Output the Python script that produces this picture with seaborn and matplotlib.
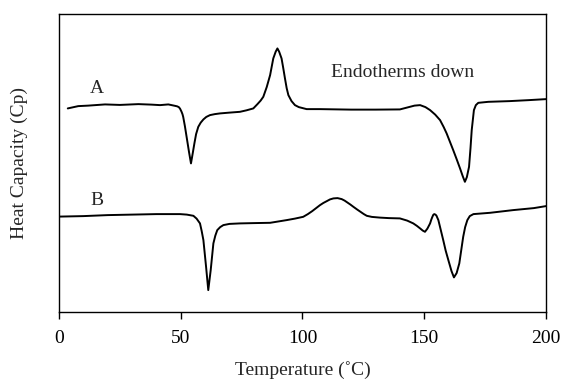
import pandas as pd
import matplotlib
matplotlib.use("Agg")
import matplotlib.pyplot as plt
import seaborn as sns

# DSC traces (arbitrary heat capacity units)
temp_a = [3.6, 7.9, 12.0, 18.9, 25.0, 32.6, 38.0, 41.5, 44.9, 47.6,
          48.5, 49.2, 49.7, 50.3, 50.7, 51.0, 51.7, 52.4, 53.4, 54.2,
          55.0, 55.6, 56.3, 57.2, 58.2, 59.3, 60.5, 62.0, 64.0, 66.1,
          70.0, 74.3, 77.0, 79.8, 81.5, 82.8, 83.9, 85.3, 86.7, 87.4,
          88.0, 89.0, 89.7, 90.4, 91.4, 92.1, 92.8, 93.5, 94.2, 95.5,
          96.9, 98.5, 101.7, 104.0, 107.2, 120.0, 130.0, 140.0, 144.1, 146.0,
          148.3, 150.5, 152.4, 154.5, 156.5, 158.0, 159.2, 161.9, 163.3, 164.7,
          165.8, 166.7, 167.5, 168.4, 169.0, 169.5, 170.4, 171.2, 172.2, 176.3,
          185.0, 193.0, 200.0]
cp_a = [2.037, 2.060, 2.065, 2.077, 2.072, 2.080, 2.075, 2.070, 2.077, 2.063,
        2.058, 2.050, 2.035, 2.005, 1.980, 1.953, 1.860, 1.753, 1.600, 1.487,
        1.600, 1.687, 1.780, 1.853, 1.895, 1.927, 1.952, 1.970, 1.980, 1.987,
        1.995, 2.003, 2.018, 2.037, 2.080, 2.115, 2.153, 2.250, 2.370, 2.460,
        2.537, 2.605, 2.637, 2.605, 2.537, 2.440, 2.337, 2.240, 2.170, 2.110,
        2.070, 2.050, 2.030, 2.030, 2.030, 2.025, 2.025, 2.027, 2.053, 2.065,
        2.070, 2.050, 2.020, 1.975, 1.920, 1.850, 1.787, 1.620, 1.530, 1.437,
        1.360, 1.303, 1.350, 1.453, 1.640, 1.820, 2.020, 2.070, 2.093, 2.103,
        2.110, 2.120, 2.130]

temp_b = [0.0, 10.0, 20.0, 30.0, 40.0, 49.7, 52.5, 55.2, 56.5, 57.9,
          58.6, 59.3, 60.4, 61.3, 62.3, 63.4, 64.2, 65.0, 66.2, 67.5,
          70.0, 74.3, 80.0, 86.7, 93.5, 96.9, 100.3, 102.2, 104.0, 105.6,
          107.2, 108.6, 110.0, 111.3, 112.7, 114.4, 116.1, 117.3, 118.5, 119.7,
          120.9, 122.5, 124.0, 125.2, 126.4, 128.5, 131.8, 135.5, 140.0, 143.0,
          145.5, 147.0, 148.3, 149.4, 150.3, 151.3, 152.4, 152.9, 153.3, 153.7,
          154.1, 154.6, 155.0, 155.8, 156.8, 157.8, 158.8, 159.9, 161.2, 162.2,
          163.3, 164.4, 165.2, 166.0, 166.8, 167.7, 168.7, 170.2, 177.0, 186.5,
          195.0, 200.0]
cp_b = [0.955, 0.960, 0.970, 0.975, 0.980, 0.980, 0.975, 0.963, 0.935, 0.887,
        0.810, 0.720, 0.453, 0.220, 0.420, 0.687, 0.765, 0.820, 0.850, 0.870,
        0.882, 0.887, 0.890, 0.893, 0.920, 0.935, 0.953, 0.980, 1.010, 1.040,
        1.070, 1.092, 1.110, 1.127, 1.137, 1.140, 1.130, 1.115, 1.095, 1.075,
        1.053, 1.025, 1.000, 0.980, 0.963, 0.952, 0.945, 0.940, 0.937, 0.915,
        0.887, 0.862, 0.837, 0.815, 0.803, 0.835, 0.887, 0.925, 0.950, 0.972,
        0.980, 0.975, 0.965, 0.920, 0.820, 0.720, 0.615, 0.520, 0.410, 0.347,
        0.390, 0.487, 0.620, 0.753, 0.850, 0.920, 0.960, 0.980, 0.993, 1.020,
        1.040, 1.060]

xticks = [0, 50, 100, 150, 200]

df = pd.concat([
    pd.DataFrame({"T": temp_a, "Cp": cp_a, "sample": "A"}),
    pd.DataFrame({"T": temp_b, "Cp": cp_b, "sample": "B"}),
])

sns.set_theme(style="ticks")
plt.rcParams["font.family"] = ["Liberation Serif", "DejaVu Serif"]

fig = plt.figure(figsize=(5.62, 3.82), dpi=100)
ax = fig.add_axes([0.105, 0.183, 0.8665, 0.78])

sns.lineplot(data=df, x="T", y="Cp", units="sample", estimator=None,
             color="black", linewidth=1.4, ax=ax, legend=False)

ax.set_xlim(0, 200)
ax.set_ylim(0, 2.98)
ax.set_xticks(xticks)
ax.set_yticks([])
ax.tick_params(axis="x", direction="out", length=5, width=1, pad=8,
               labelsize=14, colors="black")
for s in ax.spines.values():
    s.set_visible(True)
    s.set_color("black")
    s.set_linewidth(1.0)

ax.set_xlabel("Temperature (˚C)", fontsize=14, labelpad=10)
ax.set_ylabel("Heat Capacity (Cp)", fontsize=14, labelpad=22)

ax.text(15.6, 2.24, "A", fontsize=14, ha="center", va="center")
ax.text(15.6, 1.12, "B", fontsize=14, ha="center", va="center")
ax.text(141, 2.40, "Endotherms down", fontsize=14, ha="center", va="center")

fig.savefig("out.png", dpi=100)
